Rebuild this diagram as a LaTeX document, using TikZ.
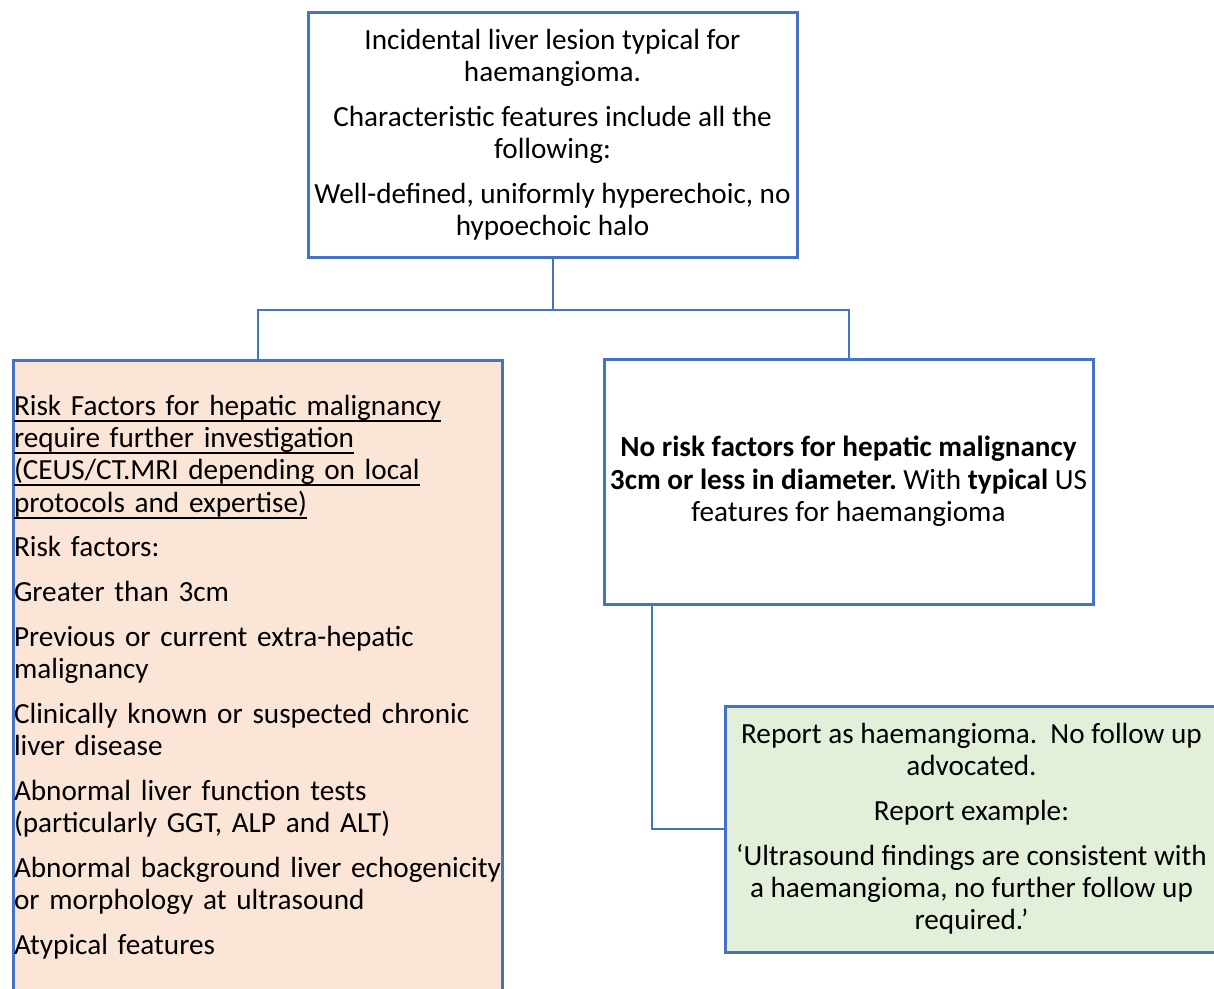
\documentclass[tikz,border=0pt]{standalone}
\usepackage{fontspec}
\setmainfont{Carlito}
\usetikzlibrary{calc}
\definecolor{edgeblue}{HTML}{4472C4}
\definecolor{riskfill}{HTML}{FBE5D6}
\definecolor{reportfill}{HTML}{E2F0D9}
% underline that sits just under the descenders
\newcommand\lineunder[1]{\leavevmode\setbox0\hbox{#1}\rlap{\rule[-6.5pt]{\wd0}{2pt}}\box0}
\begin{document}
\frenchspacing
\begin{tikzpicture}[x=1pt,y=-1pt,
  box/.style={draw=edgeblue, line width=3pt, inner xsep=2pt,
    font=\fontsize{29.2}{32.3}\selectfont},
  link/.style={draw=edgeblue, line width=2pt},
]
\useasboundingbox (0,0) rectangle (1214,988);
\clip (0,0) rectangle (1214,988);

% starting point
\node[box, minimum width=489pt, minimum height=245pt, align=center]
  (top) at (552.5,134.5)
  {Incidental liver lesion typical for\\ haemangioma.\\[12.4pt]
   Characteristic features include all the\\ following:\\[12.4pt]
   Well-defined, uniformly hyperechoic, no\\ hypoechoic halo};

% branch with risk factors
\node[box, fill=riskfill, anchor=north west, text width=488pt, inner xsep=0.5pt,
      inner ysep=34.5pt, align=left]
  (risk) at (12,359)
  {\lineunder{Risk Factors for hepatic malignancy}\\
   \lineunder{require further investigation}\\
   \lineunder{(CEUS/CT.MRI depending on local}\\
   \lineunder{protocols and expertise)}\\[12.4pt]
   Risk factors:\\[12.4pt]
   Greater than 3cm\\[12.4pt]
   \mbox{Previous or current extra-hepatic}\\ malignancy\\[12.4pt]
   \mbox{Clinically known or suspected chronic}\\ liver disease\\[12.4pt]
   \mbox{Abnormal liver function tests}\\ \mbox{(particularly GGT, ALP and ALT)}\\[12.4pt]
   \mbox{Abnormal background liver echogenicity}\\ \mbox{or morphology at ultrasound}\\[12.4pt]
   Atypical features};

% branch without risk factors
\node[box, minimum width=489pt, minimum height=245pt, align=center]
  (clear) at (848.5,481.5)
  {\textbf{No risk factors for hepatic malignancy}\\
   \textbf{3cm or less in diameter.} With \textbf{typical} US\\
   features for haemangioma};

% outcome
\node[box, fill=reportfill, minimum width=493pt, minimum height=246pt, align=center]
  (report) at (971.5,829)
  {Report as haemangioma.\ \ No follow up\\ advocated.\\[12.4pt]
   Report example:\\[12.4pt]
   ‘Ultrasound findings are consistent with\\ a haemangioma, no further follow up\\ required.’};

% connectors
\draw[link] (top.south) -- ++(0,51) coordinate (fork);
\draw[link] (fork) -| (risk.north);
\draw[link] (fork) -| (clear.north);
\draw[link] ($(clear.south west)+(49,0)$) |- (report.west);
\end{tikzpicture}
\end{document}
